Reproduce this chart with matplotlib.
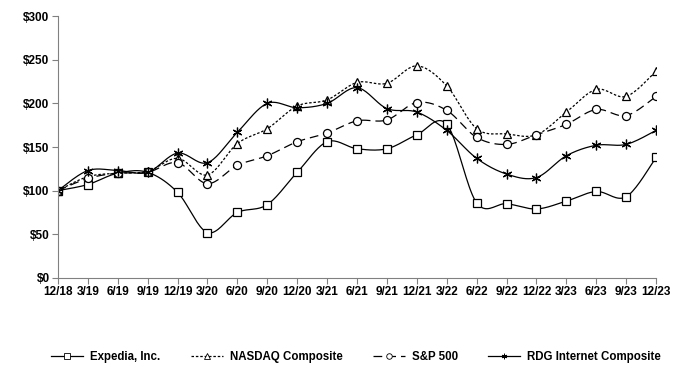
from matplotlib import pyplot as plt
import numpy as np

plt.rcParams['font.family'] = ['Liberation Sans', 'DejaVu Sans']

quarters = ['12/18', '3/19', '6/19', '9/19', '12/19', '3/20', '6/20', '9/20', '12/20', '3/21',
            '6/21', '9/21', '12/21', '3/22', '6/22', '9/22', '12/22', '3/23', '6/23', '9/23', '12/23']

expedia = [100, 107, 120, 121, 98, 52, 75, 84, 121, 156,
           148, 148, 164, 176, 86, 85, 79, 88, 99, 93, 138]
nasdaq = [100, 116, 120, 122, 137, 118, 154, 171, 197, 204,
          224, 223, 243, 220, 171, 165, 164, 190, 216, 208, 237]
sp500 = [100, 114, 120, 121, 132, 108, 129, 140, 156, 166,
         180, 181, 201, 192, 161, 153, 164, 176, 193, 186, 208]
rdg = [100, 123, 123, 121, 143, 132, 167, 200, 195, 200,
       218, 194, 190, 169, 137, 119, 115, 140, 152, 153, 169]


def smooth(y, n=20):
    # Catmull-Rom curve through the points, like Excel's smoothed line
    y = np.asarray(y, dtype=float)
    x = np.arange(len(y), dtype=float)
    px = np.concatenate([[x[0]], x, [x[-1]]])
    py = np.concatenate([[y[0]], y, [y[-1]]])
    xs, ys = [], []
    t = np.linspace(0, 1, n, endpoint=False)
    for i in range(1, len(px) - 2):
        for p, out in ((px, xs), (py, ys)):
            p0, p1, p2, p3 = p[i - 1], p[i], p[i + 1], p[i + 2]
            b1 = p1 + (p2 - p0) / 6
            b2 = p2 - (p3 - p1) / 6
            out.extend((1 - t) ** 3 * p1 + 3 * (1 - t) ** 2 * t * b1 + 3 * (1 - t) * t ** 2 * b2 + t ** 3 * p2)
    xs.append(x[-1])
    ys.append(y[-1])
    return np.array(xs), np.array(ys)


fig = plt.figure(figsize=(6.98, 3.75), dpi=100)
ax = fig.add_axes([0.083, 0.259, 0.857, 0.698])

x = np.arange(len(quarters))
asterisk = (6, 2, 0)
series = [
    ('Expedia, Inc.', expedia, '-', 's'),
    ('NASDAQ Composite', nasdaq, (0, (2, 1.5)), '^'),
    ('S&P 500', sp500, (0, (7, 4)), 'o'),
    ('RDG Internet Composite', rdg, '-', asterisk),
]

handles = []
for name, vals, ls, mk in series:
    sx, sy = smooth(vals)
    ax.plot(sx, sy, color='k', linestyle=ls, linewidth=0.9)
    ax.plot(x, vals, linestyle='none', marker=mk, markersize=7 if mk == asterisk else 5.8,
            markerfacecolor='white' if mk != asterisk else 'k', markeredgecolor='k',
            markeredgewidth=0.9)
    h, = plt.plot([], [], color='k', linestyle=ls, linewidth=0.9, marker=mk,
                  markersize=4, markerfacecolor='white', markeredgecolor='k', markeredgewidth=0.6)
    handles.append((h, name))

ax.set_xlim(0, len(quarters) - 1)
ax.set_ylim(0, 300)
ax.set_xticks(x)
ax.set_xticklabels(quarters)
ax.set_yticks(range(0, 301, 50))
ax.set_yticklabels(['$' + str(v) for v in range(0, 301, 50)])
for lab in ax.get_xticklabels() + ax.get_yticklabels():
    lab.set_fontweight('bold')
    lab.set_fontsize(8.5)
ax.tick_params(axis='both', color='#808080', length=4, width=0.8, pad=2)
ax.spines['top'].set_visible(False)
ax.spines['right'].set_visible(False)
ax.spines['left'].set_color('#808080')
ax.spines['bottom'].set_color('#808080')
ax.set_clip_on(False)

fig.legend([h for h, _ in handles], [n for _, n in handles], loc='center', ncol=4,
           bbox_to_anchor=(0.51, 0.048), frameon=False, handlelength=2.8, columnspacing=2.6,
           handletextpad=0.6, prop={'weight': 'bold', 'size': 8.3})

plt.savefig('out.png', dpi=100)
